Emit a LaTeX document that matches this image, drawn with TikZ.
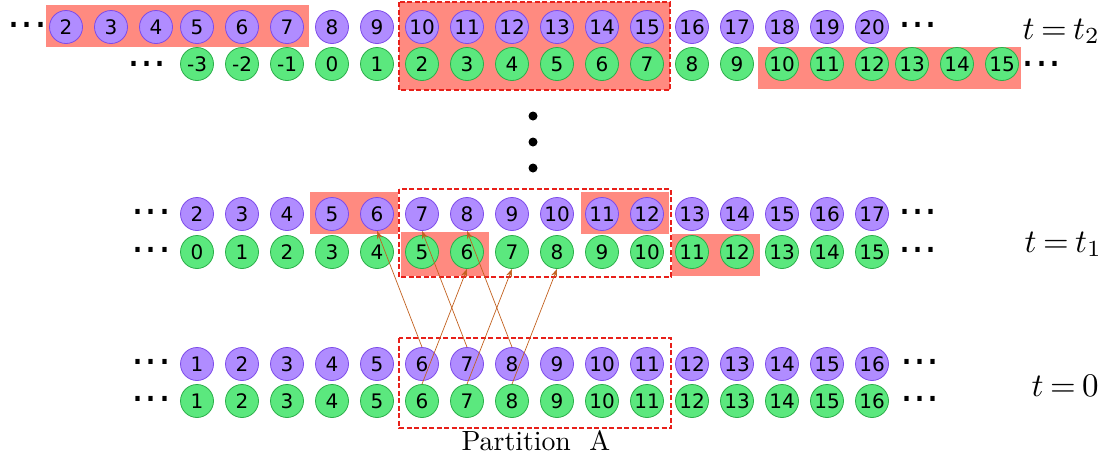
\documentclass[tikz,border=0pt]{standalone}
\usepackage{fontspec}
\setsansfont{DejaVu Sans}
\newfontfamily\dotfont{DejaVu Sans}
\usetikzlibrary{arrows.meta}
\definecolor{pfill}{HTML}{B08CFF}
\definecolor{pdraw}{HTML}{7D4BEA}
\definecolor{gfill}{HTML}{5BE87E}
\definecolor{gdraw}{HTML}{2BAE4A}
\definecolor{hl}{HTML}{FF8A80}
\definecolor{part}{HTML}{E8201A}
\definecolor{arr}{HTML}{C2601E}
\begin{document}
\begin{tikzpicture}[x=1pt,y=-1pt,
 ball/.style={circle,minimum size=33pt,inner sep=0pt,line width=0.8pt,font=\sffamily\fontsize{20}{20}\selectfont},
 pb/.style={ball,fill=pfill,draw=pdraw},
 gb/.style={ball,fill=gfill,draw=gdraw},
 dts/.style={inner sep=0pt,font=\dotfont\fontsize{41}{41}\selectfont},
 partbox/.style={draw=part,line width=1.3pt,dash pattern=on 5pt off 2.5pt},
 mv/.style={draw=arr,line width=0.7pt,-{Stealth[length=8pt,width=6pt]}},
 tlab/.style={inner sep=0pt,anchor=base west,scale=3.3},
]
\useasboundingbox (0,0) rectangle (1114,459);

% ---------- t = t2 ----------
\fill[hl] (46,5) rectangle (309,47);
\fill[hl] (758,47) rectangle (1021,89);
\filldraw[fill=hl,partbox] (399,2) rectangle (670,90);
\foreach \x/\n in {66/2,111/3,156/4} \node[pb] (tpx\n) at (\x,27) {\n};
\foreach \c in {0,...,15} {
  \pgfmathtruncatemacro\n{\c+5}
  \node[pb] (tp\c) at ({197+45*\c},27) {\n};
}
\foreach \c in {0,...,15} {
  \pgfmathtruncatemacro\n{\c-3}
  \node[gb] (tg\c) at ({197+45*\c},64) {\n};
}
\foreach \x/\n in {912/13,957/14,1002/15} \node[gb] (tgx\n) at (\x,64) {\n};
\node[dts] (td1) at (27.5,25) {...};
\node[dts] (td2) at (147,64) {...};
\node[dts] (td3) at (918,25) {...};
\node[dts] (td4) at (1041.5,64) {...};
\node[tlab] (lt2) at (1022,39) {$t\mkern-1.5mu=\mkern-1.5mu t_2$};

% ---------- vertical dots ----------
\fill (533,116) circle (4.5);
\fill (533,142) circle (4.5);
\fill (533,168) circle (4.5);

% ---------- t = t1 ----------
\fill[hl] (310,192) rectangle (398,234);
\fill[hl] (581,192) rectangle (669,234);
\fill[hl] (401,232) rectangle (489,276);
\fill[hl] (672,234) rectangle (760,276);
\draw[partbox] (399,189) rectangle (671,277);
\foreach \c in {0,...,15} {
  \pgfmathtruncatemacro\n{\c+2}
  \node[pb] (mp\c) at ({197+45*\c},214) {\n};
  \node[gb] (mg\c) at ({197+45*\c},252) {\c};
}
\node[dts] (md1) at (151.5,212) {...};
\node[dts] (md2) at (151.5,250) {...};
\node[dts] (md3) at (918,212) {...};
\node[dts] (md4) at (918,250) {...};
\node[tlab] (lt1) at (1024,252) {$t\mkern-1.5mu=\mkern-1.5mu t_1$};

% ---------- t = 0 ----------
\draw[partbox] (399,338) rectangle (671,428);
\foreach \c in {0,...,15} {
  \pgfmathtruncatemacro\n{\c+1}
  \node[pb] (bp\c) at ({197+45*\c},364) {\n};
  \node[gb] (bg\c) at ({197+45*\c},401) {\n};
}
\node[dts] (bd1) at (151.5,362) {...};
\node[dts] (bd2) at (151.5,399) {...};
\node[dts] (bd3) at (920,362) {...};
\node[dts] (bd4) at (920,399) {...};
\node[tlab] (lt0) at (1031,396) {$t\mkern-1.5mu=\mkern-1.5mu 0$};
\node[anchor=base west,inner sep=0pt,scale=2.78] (plab) at (461,450) {Partition\ \ A};

% ---------- moves ----------
\draw[mv] (bp5.north) -- (mp4.south);
\draw[mv] (bp6.north) -- (mp5.south);
\draw[mv] (bp7.north) -- (mp6.south);
\draw[mv] (bg5.north) -- (mg6.south);
\draw[mv] (bg6.north) -- (mg7.south);
\draw[mv] (bg7.north) -- (mg8.south);
\end{tikzpicture}
\end{document}
